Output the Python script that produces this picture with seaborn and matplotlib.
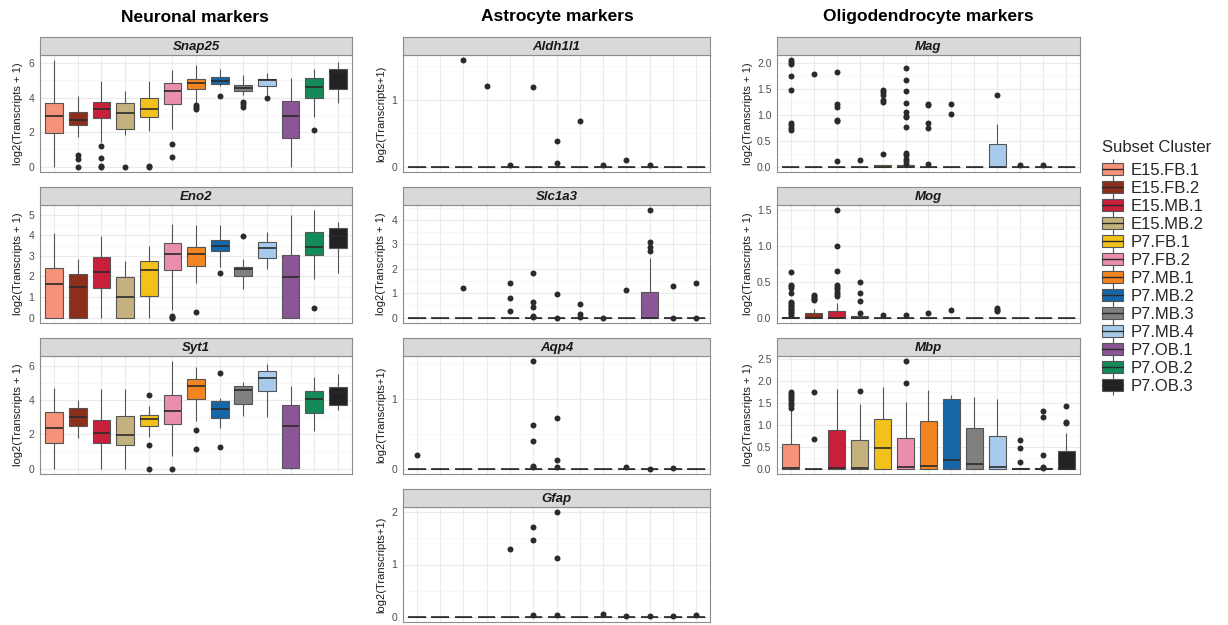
import matplotlib
matplotlib.use("Agg")
import matplotlib.pyplot as plt
import seaborn as sns
import pandas as pd
from matplotlib.patches import Patch
from matplotlib.lines import Line2D
from matplotlib.legend_handler import HandlerTuple
from matplotlib.ticker import MultipleLocator, FormatStrFormatter

CLUSTERS = ["E15.FB.1", "E15.FB.2", "E15.MB.1", "E15.MB.2", "P7.FB.1", "P7.FB.2",
            "P7.MB.1", "P7.MB.2", "P7.MB.3", "P7.MB.4", "P7.OB.1", "P7.OB.2", "P7.OB.3"]
COLORS = ["#F4927A", "#8B2F1C", "#C81F3B", "#C3B27D", "#F2C21B", "#E98FAD", "#F28522",
          "#1767A8", "#808080", "#A6CBEC", "#8A5696", "#138A57", "#222222"]

# box summary per cluster: (whisker low, q1, median, q3, whisker high)
ZERO = (0, 0, 0, 0, 0)

SNAP25_BOX = [(0, 1.95, 2.92, 3.70, 6.15), (1.70, 2.42, 2.71, 3.17, 4.10),
              (1.45, 2.81, 3.33, 3.75, 4.97), (1.82, 2.17, 3.08, 3.66, 4.35),
              (2.07, 2.86, 3.33, 3.97, 4.97), (2.17, 3.60, 4.37, 4.84, 5.61),
              (3.64, 4.49, 4.82, 5.05, 5.86), (4.64, 4.78, 4.97, 5.17, 5.67),
              (4.14, 4.35, 4.55, 4.70, 5.28), (4.16, 4.64, 4.99, 5.05, 5.40),
              (0, 1.68, 2.94, 3.81, 5.13), (2.90, 3.97, 4.61, 5.11, 5.67),
              (3.68, 4.51, 5.50, 5.67, 6.08)]
SNAP25_OUT = [[], [0.65, 0.45, 0.0], [1.17, 0.5, 0.05, 0.0], [0.0], [0.05, 0.0],
              [1.33, 0.56], [3.58, 3.45, 3.35], [4.1], [3.73, 3.6, 3.45], [3.95], [], [2.11], []]

ENO2_BOX = [(0, 0, 1.64, 2.43, 4.10), (0, 0, 1.49, 2.13, 2.84), (0, 1.43, 2.20, 2.93, 3.98),
            (0, 0, 0.98, 1.95, 2.77), (0, 1.03, 2.31, 2.74, 3.49), (0.38, 2.30, 3.08, 3.62, 4.57),
            (1.66, 2.49, 3.08, 3.44, 4.48), (2.48, 3.25, 3.49, 3.79, 4.48),
            (1.41, 2.02, 2.38, 2.44, 2.84), (2.34, 2.90, 3.36, 3.69, 4.15),
            (0, 0, 1.97, 3.02, 5.00), (1.90, 3.02, 3.44, 4.15, 5.21), (2.18, 3.38, 3.97, 4.34, 4.64)]
ENO2_OUT = [[], [], [], [], [], [0.1, 0.05, 0.0], [0.25], [2.16], [3.97], [], [], [0.49], []]

SYT1_BOX = [(0, 1.51, 2.36, 3.29, 4.70), (1.77, 2.48, 3.01, 3.56, 4.03), (0, 1.51, 2.07, 2.85, 4.62),
            (0, 1.36, 1.97, 3.05, 4.62), (1.87, 2.50, 2.89, 3.15, 3.64), (0.75, 2.62, 3.38, 4.31, 6.26),
            (2.79, 4.05, 4.82, 5.21, 5.96), (2.36, 2.97, 3.50, 3.93, 4.15),
            (3.09, 3.76, 4.58, 4.82, 5.06), (3.01, 4.51, 5.29, 5.67, 6.10),
            (0, 0.06, 2.48, 3.72, 4.82), (2.22, 3.23, 4.09, 4.51, 5.33), (3.40, 3.74, 4.49, 4.78, 5.51)]
SYT1_OUT = [[], [], [], [], [4.28, 1.4, 0.0], [0.0], [2.25, 1.17], [5.59, 1.28], [], [], [], [], []]

ALDH1L1_BOX = [ZERO] * 13
ALDH1L1_OUT = [[], [], [1.59], [1.2], [0.02], [1.19], [0.39, 0.06], [0.69], [0.02], [0.1], [0.02], [], []]

SLC1A3_BOX = [ZERO] * 10 + [(0, 0, 0, 1.07, 2.45), ZERO, ZERO]
SLC1A3_OUT = [[], [], [1.22], [], [1.44, 0.8, 0.28], [1.83, 0.65, 0.43, 0.08, 0.02], [0.96, 0.0],
              [0.55, 0.15, 0.02], [0.0], [1.12], [4.4, 3.11, 2.88, 2.74], [1.3, 0.0], [1.42, 0.0]]

AQP4_BOX = [ZERO] * 13
AQP4_OUT = [[0.19], [], [], [], [], [1.54, 0.62, 0.4, 0.04, 0.02], [0.73, 0.12, 0.02],
            [], [], [0.02], [0.0], [0.01], []]

GFAP_BOX = [ZERO] * 13
GFAP_OUT = [[], [], [], [], [1.29], [1.72, 1.46, 0.04], [2.0, 1.12, 0.03], [],
            [0.05], [0.02], [0.01], [0.02], [0.03]]

MAG_BOX = [ZERO, ZERO, ZERO, ZERO, (0, 0, 0, 0.03, 0.03), (0, 0, 0, 0.03, 0.03),
           ZERO, ZERO, ZERO, (0, 0, 0, 0.43, 0.83), ZERO, ZERO, ZERO]
MAG_OUT = [[2.05, 2.01, 1.98, 1.75, 1.48, 0.85, 0.8, 0.74, 0.7], [1.78],
           [1.82, 1.2, 1.15, 0.9, 0.88, 0.1], [0.12], [1.48, 1.43, 1.38, 1.28, 1.25, 0.25],
           [1.9, 1.67, 1.45, 1.23, 1.05, 0.98, 0.95, 0.76, 0.27, 0.22, 0.15, 0.1, 0.05],
           [1.2, 1.18, 0.85, 0.75, 0.05], [1.2, 1.02], [], [1.38], [0.03], [0.04], []]

MOG_BOX = [(0, 0, 0, 0.01, 0.01), (0, 0, 0, 0.07, 0.12), (0, 0, 0, 0.09, 0.2),
           (0, 0, 0, 0.02, 0.02)] + [ZERO] * 9
MOG_OUT = [[0.64, 0.46, 0.44, 0.42, 0.34, 0.22, 0.2, 0.18, 0.16, 0.14, 0.12, 0.1, 0.08, 0.06, 0.04],
           [0.31, 0.3, 0.28, 0.26, 0.24], [1.5, 1.0, 0.65, 0.45, 0.43, 0.4, 0.36, 0.33, 0.3],
           [0.5, 0.35, 0.23, 0.07], [0.03], [0.03], [0.07], [0.11], [], [0.13, 0.11, 0.09], [], [], []]

MBP_BOX = [(0, 0, 0.01, 0.55, 1.35), ZERO, (0, 0, 0.02, 0.89, 1.82), (0, 0, 0.01, 0.65, 1.47),
           (0, 0, 0.47, 1.13, 1.85), (0, 0, 0.03, 0.70, 1.52), (0, 0, 0.05, 1.08, 1.79),
           (0, 0, 0.19, 1.58, 1.67), (0, 0, 0.11, 0.93, 1.64), (0, 0, 0.03, 0.75, 1.59),
           (0, 0, 0, 0.02, 0.02), (0, 0, 0, 0.01, 0.01), (0, 0, 0, 0.40, 0.80)]
MBP_OUT = [[1.74, 1.7, 1.65, 1.6, 1.55, 1.5, 1.45, 1.38], [1.75, 0.67], [], [1.76], [], [2.44, 1.94],
           [], [], [], [], [0.65, 0.47, 0.14], [1.31, 1.18, 0.3, 0.04, 0.02], [1.43, 1.06, 1.03]]

W, H = 1228, 625
sns.set_style("white")
plt.rcParams['font.family'] = ['Liberation Sans', 'DejaVu Sans']

fig = plt.figure(figsize=(W / 100, H / 100), dpi=100)


def px(x0, y0, x1, y1):
    return [x0 / W, 1 - y1 / H, (x1 - x0) / W, (y1 - y0) / H]


def to_frame(values):
    rows = [{"cluster": c, "value": v} for c, vals in zip(CLUSTERS, values) for v in vals]
    return pd.DataFrame(rows, columns=["cluster", "value"])


def draw_panel(xr, yr, gene, stats, outs, step, ylabel, fmt, label_off):
    x0, x1 = xr
    y0, y1 = yr
    strip_h = 18
    ax = fig.add_axes(px(x0, y0 + strip_h, x1, y1))
    sax = fig.add_axes(px(x0, y0, x1, y0 + strip_h))

    sns.boxplot(data=to_frame(stats), x="cluster", y="value", hue="cluster",
                order=CLUSTERS, hue_order=CLUSTERS, palette=COLORS, saturation=1,
                width=0.75, whis=(0, 100), showfliers=False, showcaps=False, legend=False,
                linecolor="#555555", linewidth=0.8,
                medianprops={"color": "#2a2a2a", "linewidth": 1.2}, ax=ax)
    pts = to_frame(outs)
    sns.stripplot(data=pts, x="cluster", y="value", order=CLUSTERS, jitter=False,
                  color="#2b2b2b", size=4.3, linewidth=0, ax=ax)

    allv = [v for s in stats for v in s] + pts["value"].tolist()
    lo, hi = min(allv), max(allv)
    pad = (hi - lo) * 0.05
    ax.set_ylim(lo - pad, hi + pad)
    ax.set_xlim(-0.6, 12.6)
    ax.yaxis.set_major_locator(MultipleLocator(step))
    ax.yaxis.set_minor_locator(MultipleLocator(step / 2))
    ax.yaxis.set_major_formatter(FormatStrFormatter(fmt))
    ax.set_axisbelow(True)
    ax.grid(which="major", color="#EBEBEB", linewidth=0.8)
    ax.grid(which="minor", axis="y", color="#F4F4F4", linewidth=0.5)
    ax.tick_params(axis="both", which="major", length=2.5, width=0.6, color="#333333",
                   labelsize=7.5, labelcolor="#4D4D4D", pad=1.5)
    ax.tick_params(which="minor", length=0)
    ax.tick_params(axis="x", labelbottom=False)
    ax.set_xlabel("")
    ax.set_ylabel(ylabel, fontsize=8, color="#1A1A1A")
    ax.yaxis.set_label_coords(-label_off / (x1 - x0), 0.5)
    for sp in ax.spines.values():
        sp.set_color("#8C8C8C")
        sp.set_linewidth(0.8)

    sax.set_facecolor("#D9D9D9")
    sax.set_xticks([])
    sax.set_yticks([])
    for sp in sax.spines.values():
        sp.set_color("#8C8C8C")
        sp.set_linewidth(0.8)
    sax.text(0.5, 0.45, gene, transform=sax.transAxes, ha="center", va="center",
             fontsize=9.5, fontweight="bold", style="italic", color="#1A1A1A")


C1, C2, C3 = (40, 352), (403, 710), (777, 1080)
R1, R2, R3, R4 = (37, 172), (187, 323), (338, 474), (489, 622)
LAB = "log2(Transcripts + 1)"
LAB2 = "log2(Transcripts+1)"

draw_panel(C1, R1, "Snap25", SNAP25_BOX, SNAP25_OUT, 2, LAB, "%d", 17)
draw_panel(C1, R2, "Eno2", ENO2_BOX, ENO2_OUT, 1, LAB, "%d", 17)
draw_panel(C1, R3, "Syt1", SYT1_BOX, SYT1_OUT, 2, LAB, "%d", 17)
draw_panel(C2, R1, "Aldh1l1", ALDH1L1_BOX, ALDH1L1_OUT, 1, LAB2, "%d", 17)
draw_panel(C2, R2, "Slc1a3", SLC1A3_BOX, SLC1A3_OUT, 1, LAB, "%d", 17)
draw_panel(C2, R3, "Aqp4", AQP4_BOX, AQP4_OUT, 1, LAB2, "%d", 17)
draw_panel(C2, R4, "Gfap", GFAP_BOX, GFAP_OUT, 1, LAB2, "%d", 17)
draw_panel(C3, R1, "Mag", MAG_BOX, MAG_OUT, 0.5, LAB, "%.1f", 24)
draw_panel(C3, R2, "Mog", MOG_BOX, MOG_OUT, 0.5, LAB, "%.1f", 24)
draw_panel(C3, R3, "Mbp", MBP_BOX, MBP_OUT, 0.5, LAB, "%.1f", 24)

for xc, title in [(195, "Neuronal markers"), (557, "Astrocyte markers"),
                  (928, "Oligodendrocyte markers")]:
    fig.text(xc / W, 1 - 17 / H, title, ha="center", va="center",
             fontsize=12.5, fontweight="bold", color="black")

handles = []
for c in COLORS:
    handles.append((Line2D([0], [0], marker="|", markersize=15, mew=0.8, color="#555555", ls="none"),
                    Patch(facecolor=c, edgecolor="#555555", linewidth=0.8),
                    Line2D([0], [0], color="#2a2a2a", linewidth=1.0)))
leg = fig.legend(handles, CLUSTERS, handler_map={tuple: HandlerTuple(ndivide=1, pad=0)},
                 loc="upper left", bbox_to_anchor=(1095 / W, 1 - 133 / H), frameon=False,
                 title="Subset Cluster", title_fontsize=12, fontsize=12,
                 handlelength=1.3, handleheight=0.75, handletextpad=0.45,
                 labelspacing=0.18, alignment="left", borderaxespad=0)
leg._legend_box.sep = 6

fig.savefig("out.png", dpi=100)
